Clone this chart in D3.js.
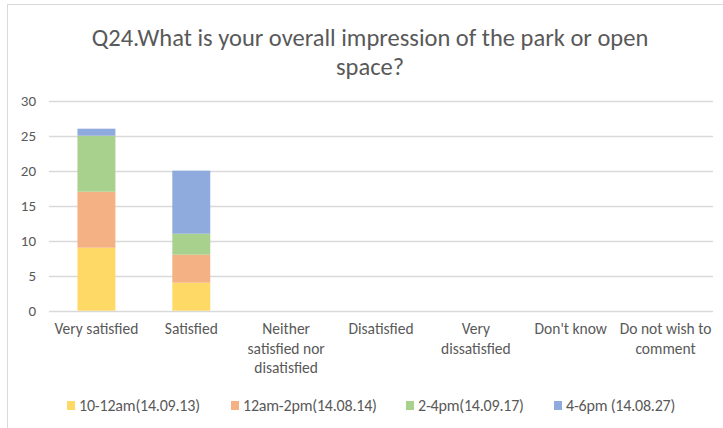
<!DOCTYPE html>
<html>
<head>
<meta charset="utf-8">
<script src="https://cdn.jsdelivr.net/npm/d3@7"></script>
<style>
  html, body { margin: 0; padding: 0; background: #fff; }
  svg { display: block; font-family: Carlito, Calibri, Lato, sans-serif; }
</style>
</head>
<body>
<svg id="chart" width="723" height="428"></svg>
<script>
// Survey responses per answer, one series per observation session
const categories = [
  ["Very satisfied"],
  ["Satisfied"],
  ["Neither", "satisfied nor", "disatisfied"],
  ["Disatisfied"],
  ["Very", "dissatisfied"],
  ["Don't know"],
  ["Do not wish  to", "comment"]
];
const seriesNames = ["10-12am(14.09.13)", "12am-2pm(14.08.14)", "2-4pm(14.09.17)", "4-6pm (14.08.27)"];
const session1 = [9, 4, 0, 0, 0, 0, 0];
const session2 = [8, 4, 0, 0, 0, 0, 0];
const session3 = [8, 3, 0, 0, 0, 0, 0];
const session4 = [1, 9, 0, 0, 0, 0, 0];
const yTicks = [0, 5, 10, 15, 20, 25, 30];
const titleLines = ["Q24.What is your overall impression of the park or open", "space?"];
const colors = ["#FFD966", "#F4B183", "#A9D18E", "#8FAADC"];

const svg = d3.select("#chart");
const textColor = "#595959";

// chart frame
svg.append("rect").attr("x", 7.5).attr("y", 4.5).attr("width", 740).attr("height", 440)
  .attr("fill", "none").attr("stroke", "#D9D9D9").attr("stroke-width", 1);

// title
svg.append("text").attr("x", 370).attr("y", 46).attr("text-anchor", "middle")
  .attr("fill", textColor).style("font-size", "24.5px")
  .selectAll("tspan").data(titleLines).join("tspan")
  .attr("x", 370).attr("dy", (d, i) => i === 0 ? 0 : 29).text(d => d);

const keys = categories.map((c, i) => i);
const x = d3.scaleBand().domain(keys).range([49, 713]).paddingInner(0.6).paddingOuter(0.3);
const y = d3.scaleLinear().domain([0, 30]).range([310.7, 100.7]);

// gridlines
svg.append("g").selectAll("line").data(yTicks).join("line")
  .attr("x1", 49).attr("x2", 713)
  .attr("y1", d => Math.round(y(d)) + 0.5).attr("y2", d => Math.round(y(d)) + 0.5)
  .attr("stroke", "#D9D9D9").attr("stroke-width", 1.3);

// y axis labels
const yAxis = svg.append("g").attr("transform", "translate(36,0)")
  .call(d3.axisLeft(y).tickValues(yTicks).tickSize(0).tickPadding(0));
yAxis.select(".domain").remove();
yAxis.selectAll("text").attr("fill", textColor).style("font-size", "15px")
  .style("font-family", "Carlito, Calibri, Lato, sans-serif");

// stacked bars
const table = keys.map(i => ({ key: i, s0: session1[i], s1: session2[i], s2: session3[i], s3: session4[i] }));
const stack = d3.stack().keys(["s0", "s1", "s2", "s3"])(table);
svg.append("g").selectAll("g").data(stack).join("g")
  .attr("fill", (d, i) => colors[i])
  .selectAll("rect").data(d => d.filter(p => p[1] > p[0])).join("rect")
  .attr("x", d => x(d.data.key)).attr("width", x.bandwidth())
  .attr("y", d => y(d[1])).attr("height", d => y(d[0]) - y(d[1]));

// category labels
const xl = svg.append("g").selectAll("text").data(categories).join("text")
  .attr("text-anchor", "middle").attr("fill", textColor).style("font-size", "15.5px")
  .attr("transform", (d, i) => `translate(${x(i) + x.bandwidth() / 2},334)`);
xl.selectAll("tspan").data(d => d).join("tspan")
  .attr("x", 0).attr("dy", (d, i) => i === 0 ? 0 : 19.5).text(d => d);

// legend
const legendX = [67, 231, 406, 554];
const lg = svg.append("g").selectAll("g").data(seriesNames).join("g")
  .attr("transform", (d, i) => `translate(${legendX[i]},400)`);
lg.append("rect").attr("width", 8).attr("height", 9).attr("y", 1)
  .attr("fill", (d, i) => colors[i]);
lg.append("text").attr("x", 12).attr("y", 11).attr("fill", textColor)
  .style("font-size", "16px").style("letter-spacing", "-0.2px").text(d => d);
</script>
</body>
</html>
